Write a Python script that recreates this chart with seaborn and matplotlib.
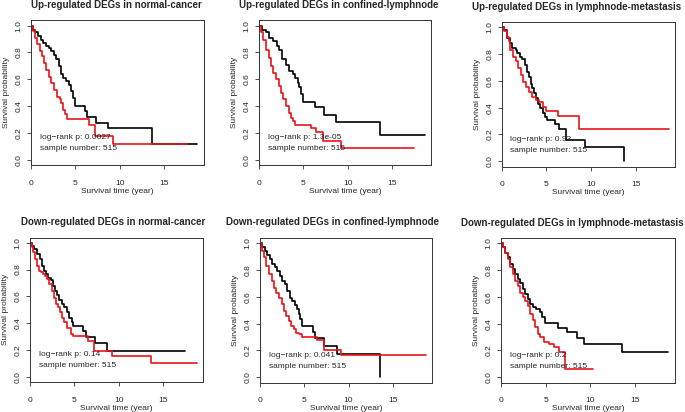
import matplotlib
matplotlib.use("Agg")
import matplotlib.pyplot as plt
import pandas as pd
import seaborn as sns

titles = [
    "Up-regulated DEGs in normal-cancer",
    "Up-regulated DEGs in confined-lymphnode",
    "Up-regulated DEGs in lymphnode-metastasis",
    "Down-regulated DEGs in normal-cancer",
    "Down-regulated DEGs in confined-lymphnode",
    "Down-regulated DEGs in lymphnode-metastasis",
]
p_values = ["0.0027", "1.3e-05", "0.93", "0.14", "0.041", "0.2"]
sample_number = 515
x_ticks = [0, 5, 10, 15]
y_ticks = [0.0, 0.2, 0.4, 0.6, 0.8, 1.0]

# survival curves: (time in years, survival after that time)
up_nc_black_t = [0, 0.26, 0.52, 0.82, 1.12, 1.39, 1.76, 2.02, 2.32, 2.58, 2.88, 3.15, 3.37,
                 3.63, 4.0, 4.27, 4.49, 4.76, 4.94, 6.07, 6.37, 7.38, 8.69, 13.63, 18.7]
up_nc_black_s = [1.0, 0.97, 0.95, 0.92, 0.89, 0.87, 0.85, 0.83, 0.81, 0.78, 0.75, 0.70, 0.64,
                 0.61, 0.585, 0.56, 0.51, 0.46, 0.40, 0.36, 0.32, 0.27, 0.235, 0.115, 0.115]
up_nc_red_t = [0, 0.26, 0.52, 0.75, 1.0, 1.27, 1.5, 1.76, 2.02, 2.32, 2.62, 3.0, 3.26, 3.45,
               3.67, 3.9, 4.12, 6.55, 7.19, 9.25, 17.5]
up_nc_red_s = [1.0, 0.96, 0.91, 0.86, 0.81, 0.77, 0.72, 0.67, 0.62, 0.57, 0.52, 0.47, 0.45, 0.42,
               0.37, 0.34, 0.30, 0.26, 0.175, 0.115, 0.115]

up_cl_black_t = [0, 0.37, 0.82, 1.2, 1.57, 2.02, 2.32, 2.62, 3.07, 3.37, 3.82, 4.12, 4.38, 4.57,
                 4.76, 4.94, 6.37, 7.38, 8.69, 13.63, 18.7]
up_cl_black_s = [1.0, 0.97, 0.95, 0.91, 0.885, 0.85, 0.82, 0.75, 0.71, 0.66, 0.64, 0.61, 0.57, 0.54,
                 0.49, 0.43, 0.39, 0.33, 0.28, 0.185, 0.185]
up_cl_red_t = [0, 0.26, 0.52, 0.82, 1.12, 1.39, 1.65, 1.95, 2.25, 2.51, 2.77, 3.07, 3.37, 3.63,
               3.9, 4.12, 5.88, 6.44, 7.19, 9.25, 17.4]
up_cl_red_s = [1.0, 0.95, 0.89, 0.82, 0.76, 0.70, 0.65, 0.60, 0.55, 0.50, 0.45, 0.40, 0.35, 0.31,
               0.29, 0.26, 0.235, 0.21, 0.14, 0.09, 0.09]

up_lm_black_t = [0, 0.26, 0.64, 0.94, 1.2, 1.58, 1.77, 2.07, 2.33, 2.59, 2.82, 3.08, 3.27, 3.46,
                 3.65, 3.83, 4.1, 4.32, 4.59, 4.85, 5.08, 5.98, 6.47, 7.22, 9.29, 13.72]
up_lm_black_s = [1.0, 0.98, 0.92, 0.88, 0.845, 0.83, 0.81, 0.78, 0.76, 0.72, 0.67, 0.63, 0.58, 0.545,
                 0.51, 0.47, 0.425, 0.395, 0.357, 0.33, 0.305, 0.275, 0.24, 0.16, 0.105, 0.0]
up_lm_red_t = [0, 0.26, 0.56, 0.83, 1.0, 1.32, 1.58, 1.84, 2.14, 2.44, 2.71, 3.08, 3.46, 3.83,
               4.21, 4.59, 4.96, 6.35, 8.72, 18.76]
up_lm_red_s = [1.0, 0.97, 0.93, 0.895, 0.83, 0.78, 0.745, 0.695, 0.645, 0.595, 0.555, 0.52, 0.48,
               0.457, 0.445, 0.407, 0.375, 0.335, 0.24, 0.24]

down_nc_black_t = [0, 0.21, 0.47, 0.77, 1.07, 1.33, 1.59, 1.82, 2.08, 2.34, 2.64, 2.83, 3.09, 3.31,
                   3.58, 3.84, 4.14, 4.44, 4.7, 4.89, 6.01, 6.31, 7.32, 8.63, 17.45]
down_nc_black_s = [1.0, 0.98, 0.955, 0.92, 0.88, 0.83, 0.79, 0.77, 0.74, 0.72, 0.68, 0.64, 0.61, 0.57,
                   0.545, 0.52, 0.48, 0.44, 0.41, 0.375, 0.34, 0.30, 0.25, 0.19, 0.19]
down_nc_red_t = [0, 0.21, 0.39, 0.58, 0.77, 0.96, 1.22, 1.44, 1.7, 1.96, 2.19, 2.45, 2.72, 2.94,
                 3.2, 3.39, 3.58, 3.84, 4.14, 4.59, 4.81, 6.57, 7.21, 9.19, 13.6, 18.74]
down_nc_red_s = [1.0, 0.97, 0.93, 0.88, 0.83, 0.79, 0.78, 0.77, 0.755, 0.73, 0.69, 0.64, 0.59, 0.54,
                 0.52, 0.48, 0.44, 0.41, 0.36, 0.32, 0.305, 0.27, 0.195, 0.155, 0.10, 0.10]

down_cl_black_t = [0, 0.3, 0.6, 0.86, 1.12, 1.42, 1.72, 1.98, 2.24, 2.54, 2.84, 3.1, 3.36, 3.66,
                   3.96, 4.22, 4.4, 4.59, 4.78, 5.97, 6.27, 7.2, 8.73, 13.55]
down_cl_black_s = [1.0, 0.975, 0.945, 0.915, 0.88, 0.845, 0.82, 0.79, 0.757, 0.72, 0.695, 0.645, 0.595,
                   0.57, 0.54, 0.507, 0.47, 0.432, 0.385, 0.335, 0.29, 0.23, 0.175, 0.0]
down_cl_red_t = [0, 0.22, 0.49, 0.75, 1.04, 1.34, 1.6, 1.87, 2.16, 2.46, 2.72, 2.99, 3.28, 3.58,
                 3.84, 4.1, 4.4, 4.78, 6.46, 7.2, 9.18, 18.7]
down_cl_red_s = [1.0, 0.945, 0.895, 0.83, 0.77, 0.72, 0.67, 0.63, 0.595, 0.545, 0.495, 0.457, 0.42,
                 0.38, 0.357, 0.332, 0.32, 0.30, 0.275, 0.205, 0.165, 0.165]

down_lm_black_t = [0, 0.22, 0.49, 0.75, 1.04, 1.34, 1.6, 1.87, 2.16, 2.46, 2.72, 2.99, 3.28, 3.58,
                   3.96, 4.33, 4.59, 4.89, 6.34, 7.39, 8.51, 9.25, 13.55, 18.66]
down_lm_black_s = [1.0, 0.97, 0.93, 0.895, 0.845, 0.81, 0.77, 0.735, 0.70, 0.66, 0.62, 0.585, 0.547,
                   0.527, 0.51, 0.485, 0.448, 0.405, 0.37, 0.335, 0.29, 0.25, 0.19, 0.19]
down_lm_red_t = [0, 0.22, 0.49, 0.75, 1.04, 1.34, 1.6, 1.87, 2.16, 2.46, 2.72, 2.99, 3.28, 3.58,
                 3.84, 4.1, 4.4, 4.78, 5.34, 5.9, 6.46, 7.2, 10.3]
down_lm_red_s = [1.0, 0.97, 0.93, 0.88, 0.82, 0.77, 0.72, 0.68, 0.63, 0.60, 0.57, 0.535, 0.475, 0.425,
                 0.375, 0.325, 0.30, 0.265, 0.25, 0.225, 0.19, 0.06, 0.06]

curves = [
    (up_nc_black_t, up_nc_black_s, up_nc_red_t, up_nc_red_s),
    (up_cl_black_t, up_cl_black_s, up_cl_red_t, up_cl_red_s),
    (up_lm_black_t, up_lm_black_s, up_lm_red_t, up_lm_red_s),
    (down_nc_black_t, down_nc_black_s, down_nc_red_t, down_nc_red_s),
    (down_cl_black_t, down_cl_black_s, down_cl_red_t, down_cl_red_s),
    (down_lm_black_t, down_lm_black_s, down_lm_red_t, down_lm_red_s),
]

# panel boxes in pixels: left, top, right, bottom
boxes = [
    (30.7, 20.3, 203.5, 165.0),
    (258.7, 20.3, 431.5, 165.0),
    (501.5, 22.0, 675.0, 166.5),
    (30.0, 237.5, 202.5, 382.0),
    (259.7, 238.0, 432.0, 382.5),
    (501.0, 238.0, 674.5, 382.5),
]
# title centres in pixels (x, y)
title_pos = [(116.7, 5.5), (338.3, 5.5), (577.0, 7.5), (112.8, 221.5), (332.5, 221.5), (572.0, 223.0)]

W, H = 685, 412
sns.set_style("white")
plt.rcParams["font.family"] = ["Liberation Sans", "DejaVu Sans"]

fig = plt.figure(figsize=(W / 100, H / 100), dpi=100)

for i in range(6):
    l, t, r, b = boxes[i]
    ax = fig.add_axes([l / W, 1 - b / H, (r - l) / W, (b - t) / H])
    bt, bs, rt, rs = curves[i]
    df = pd.concat([
        pd.DataFrame({"time": bt, "surv": bs, "group": "high"}),
        pd.DataFrame({"time": rt, "surv": rs, "group": "low"}),
    ])
    sns.lineplot(data=df, x="time", y="surv", hue="group", hue_order=["high", "low"],
                 palette={"high": "black", "low": "#e8141a"}, drawstyle="steps-post",
                 estimator=None, legend=False, linewidth=1.2, ax=ax)
    ax.set_xlim(0, 19.4)
    ax.set_ylim(-0.04, 1.04)
    ax.set_xticks(x_ticks)
    ax.set_yticks(y_ticks)
    ax.set_yticklabels([f"{v:.1f}" for v in y_ticks], rotation=90, va="center")
    ax.tick_params(direction="out", length=3, width=0.6, labelsize=6,
                   color="#333333", bottom=True, left=True)
    ax.tick_params(axis="x", pad=7.5)
    ax.tick_params(axis="y", pad=3)
    for sp in ax.spines.values():
        sp.set_visible(True)
        sp.set_color("#333333")
        sp.set_linewidth(0.7)
    ax.set_xlabel("Survival time (year)", fontsize=6, labelpad=1)
    ax.set_ylabel("Survival probability", fontsize=6, labelpad=4)
    tx, ty = title_pos[i]
    fig.text(tx / W, 1 - ty / H, titles[i], fontsize=7, fontweight="bold", ha="center", va="center")
    ax.text(1.0, 0.165, f"log\u2212rank p: {p_values[i]}", fontsize=6, ha="left", va="center")
    ax.text(1.0, 0.083, f"sample number: {sample_number}", fontsize=6, ha="left", va="center")

fig.savefig("out.png", dpi=100, facecolor="white")
